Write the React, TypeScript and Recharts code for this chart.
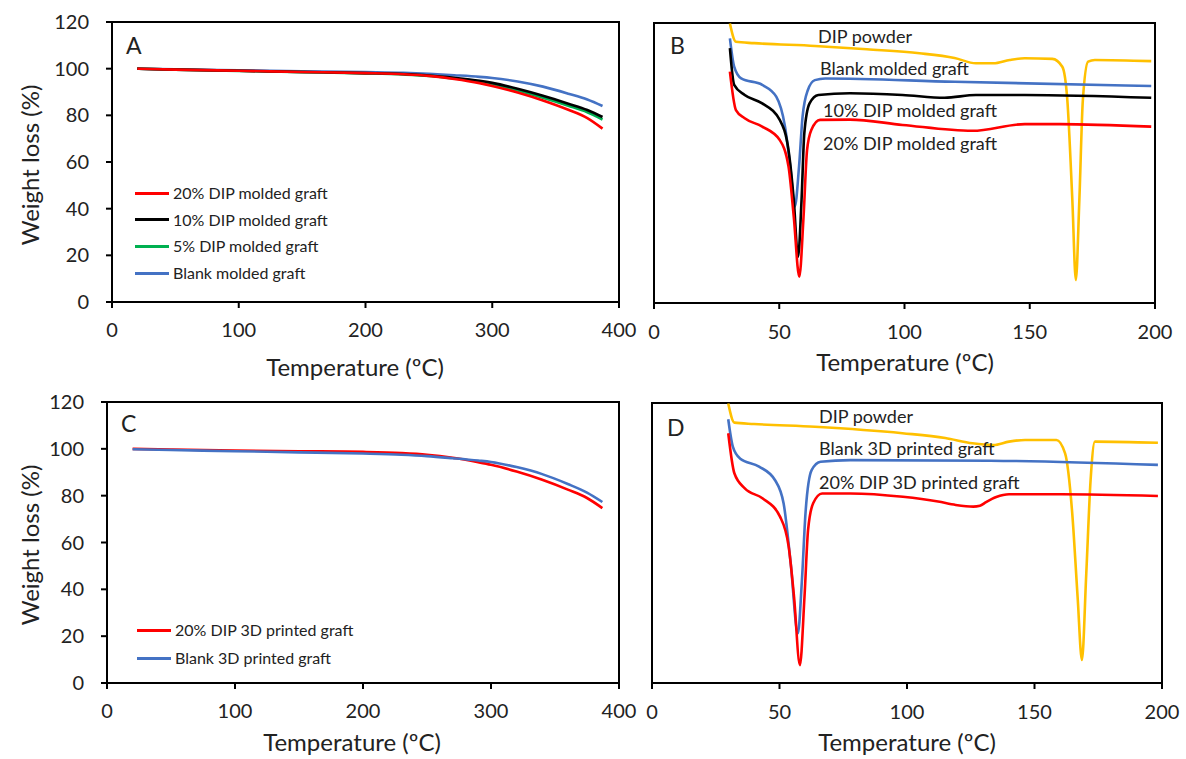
import React from 'react'
import { LineChart, Line, XAxis, YAxis, ReferenceArea } from 'recharts'

// TGA (panels A, C) – temperature in ºC
const tgaTemps = [20, 50, 100, 150, 200, 230, 250, 270, 290, 300, 320, 340, 360, 375, 387]
const molded20 = [100, 99.6, 99.1, 98.6, 98.1, 97.6, 96.9, 95.6, 93.8, 92.6, 89.8, 86.4, 82.4, 78.8, 74.3]
const molded10 = [100, 99.6, 99.1, 98.6, 98.1, 97.7, 97.1, 96.1, 94.8, 93.9, 91.4, 88.4, 85.0, 82.3, 79.3]
const molded5 = [100, 99.6, 99.0, 98.5, 98.0, 97.5, 96.9, 95.8, 94.5, 93.4, 90.6, 87.5, 84.1, 81.3, 78.2]
const moldedBlank = [100, 99.7, 99.3, 98.9, 98.5, 98.2, 97.8, 97.2, 96.5, 96.0, 94.5, 92.3, 89.3, 86.8, 84.0]
const printed20 = [100, 99.7, 99.3, 99.0, 98.7, 98.2, 97.5, 96.2, 94.3, 93.2, 90.3, 86.8, 82.6, 79.0, 74.7]
const printedBlank = [99.8, 99.5, 99.0, 98.5, 98.0, 97.5, 96.9, 96.0, 95.0, 94.4, 92.2, 89.2, 85.0, 81.3, 77.3]

// DSC (panels B, D) – relative heat flow, arbitrary units (0 = bottom, 100 = top)
const bPowderT = [30.3, 32.7, 40, 64.3, 85, 106, 120, 128.5, 135.5, 142, 148, 159, 163, 165, 167, 168.4, 169.8, 171.2, 173.3, 176, 198.5]
const bPowderV = [99.8, 93.3, 92.8, 91.8, 90.6, 89.2, 87.5, 85.6, 85.6, 86.8, 87.4, 87.2, 84.4, 72.5, 36.8, 8.2, 36.8, 72.5, 86.2, 86.8, 86.4]
const bBlankT = [30.3, 32, 34.8, 43.2, 48.8, 52.3, 54.4, 56.2, 57.9, 59.3, 61.4, 64.2, 68.4, 120, 198.5]
const bBlankV = [94.5, 84.4, 80.2, 77.9, 73.7, 63, 48.7, 34.4, 48.7, 66.5, 76, 79.6, 80.2, 79, 77.5]
const b10T = [30.3, 32, 36.2, 43.2, 50.2, 53.7, 55.8, 57.5, 58.9, 60, 62.1, 65.6, 78.2, 99.2, 116, 128.5, 148, 198.5]
const b10V = [91, 77.9, 74.3, 71.3, 65.4, 54.6, 36.8, 16.5, 36.8, 60.6, 71.3, 74.3, 74.9, 74.3, 73.3, 74.3, 74.3, 73.3]
const b20T = [30.3, 32.7, 36.2, 43.2, 50.2, 53.7, 55.8, 58, 59.7, 61.1, 62.8, 66.3, 78.2, 99.2, 127.1, 148, 162, 198.5]
const b20V = [82.6, 68.9, 66, 63, 58.2, 48.7, 30.8, 9.4, 30.8, 54.6, 61.8, 65.4, 65.5, 63.6, 61.5, 63.9, 63.9, 63]

const dPowderT = [29.9, 32.3, 40, 63.9, 98.2, 115, 125.7, 133.9, 140, 146.3, 158.6, 162, 164.8, 166.9, 168.6, 170.3, 172, 173.7, 198.4]
const dPowderV = [99.8, 93, 92.5, 91.5, 89.2, 87.5, 85.6, 85, 86.2, 86.8, 86.8, 82, 60.6, 30.8, 8.2, 39, 72.5, 86.2, 85.8]
const dBlankT = [29.9, 31.7, 34.5, 42, 48.2, 51.6, 54.4, 57.2, 58.8, 60.2, 62.6, 66.1, 77.8, 132.7, 198.4]
const dBlankV = [94.2, 84.4, 80.2, 77.3, 72.5, 64.2, 42.7, 17.7, 36.8, 60.7, 76, 79, 79.6, 79.4, 77.9]
const d20T = [29.9, 32.3, 36.4, 43.3, 50.2, 53.6, 55.7, 58, 59.8, 61.2, 63.2, 66.7, 77.8, 98.4, 112.2, 119.1, 126, 128.6, 131, 135, 140, 160.3, 198.4]
const d20V = [89.2, 74.9, 69.5, 66, 59.4, 48.7, 30.8, 6.4, 30.8, 54.6, 64.2, 67.7, 67.7, 66.5, 64.8, 63.6, 63, 63.3, 64.6, 66.4, 67.4, 67.4, 66.8]

const tgaTicksX = [0, 100, 200, 300, 400]
const tgaTicksY = [0, 20, 40, 60, 80, 100, 120]
const dscTicksX = [0, 50, 100, 150, 200]

const RED = '#ff0000'
const BLACK = '#000000'
const GREEN = '#00b050'
const BLUE = '#4472c4'
const YELLOW = '#ffc000'
const TEXT = '#222222'
const FONT = 'Lato, "Open Sans", sans-serif'

const zip = (xs: number[], ys: number[]) => xs.map((t, i) => ({ t, v: ys[i] }))

const tickStyle = { fill: TEXT, fontSize: 20 }
const axisStroke = { stroke: '#000', strokeWidth: 2 }

function Legend({ items, left, top, gap }: { items: { name: string; color: string }[]; left: number; top: number; gap: number }) {
  return (
    <div style={{ position: 'absolute', left, top }}>
      {items.map((it, i) => (
        <div key={it.name} style={{ position: 'absolute', top: i * gap, left: 0, display: 'flex', alignItems: 'center', whiteSpace: 'nowrap' }}>
          <div style={{ width: 34, height: 3, background: it.color, marginRight: 4 }} />
          <span style={{ fontSize: 16, color: TEXT, lineHeight: '20px' }}>{it.name}</span>
        </div>
      ))}
    </div>
  )
}

function Text({ x, y, children, size = 18, rotate = false, center = false }: { x: number; y: number; children: React.ReactNode; size?: number; rotate?: boolean; center?: boolean }) {
  return (
    <div
      style={{
        position: 'absolute',
        left: x,
        top: y,
        fontSize: size,
        color: TEXT,
        whiteSpace: 'nowrap',
        lineHeight: 1,
        transform: `${center || rotate ? 'translate(-50%, -50%)' : 'translateY(-50%)'}${rotate ? ' rotate(-90deg)' : ''}`,
      }}
    >
      {children}
    </div>
  )
}

function TgaChart({ series, left, top, width, height, marginLeft, marginTop, marginBottom }: any) {
  return (
    <div style={{ position: 'absolute', left, top }}>
      <LineChart width={width} height={height} margin={{ top: marginTop, right: 21, left: 0, bottom: marginBottom }}>
        <XAxis
          dataKey="t"
          type="number"
          domain={[0, 400]}
          ticks={tgaTicksX}
          height={40}
          tickSize={6}
          tickMargin={15}
          tick={tickStyle}
          axisLine={axisStroke}
          tickLine={axisStroke}
          allowDuplicatedCategory={false}
        />
        <YAxis
          type="number"
          domain={[0, 120]}
          ticks={tgaTicksY}
          width={marginLeft}
          tickSize={6}
          tickMargin={17}
          tick={tickStyle}
          axisLine={axisStroke}
          tickLine={axisStroke}
        />
        <ReferenceArea x1={0} x2={400} y1={0} y2={120} fill="none" fillOpacity={0} stroke="#000" strokeWidth={2} ifOverflow="visible" />
        {series.map((s: any) => (
          <Line key={s.name} data={s.data} dataKey="v" type="monotone" stroke={s.color} strokeWidth={2.6} dot={false} isAnimationActive={false} />
        ))}
      </LineChart>
    </div>
  )
}

function DscChart({ series, left, top, width, height, margin }: any) {
  return (
    <div style={{ position: 'absolute', left, top }}>
      <LineChart width={width} height={height} margin={margin}>
        <XAxis
          dataKey="t"
          type="number"
          domain={[0, 200]}
          ticks={dscTicksX}
          height={40}
          tickSize={6}
          tickMargin={16}
          tick={tickStyle}
          axisLine={axisStroke}
          tickLine={axisStroke}
          allowDuplicatedCategory={false}
        />
        <YAxis type="number" domain={[0, 100]} hide />
        <ReferenceArea x1={0} x2={200} y1={0} y2={100} fill="none" fillOpacity={0} stroke="#000" strokeWidth={2} ifOverflow="visible" />
        {series.map((s: any) => (
          <Line key={s.name} data={s.data} dataKey="v" type="monotone" stroke={s.color} strokeWidth={2.6} dot={false} isAnimationActive={false} />
        ))}
      </LineChart>
    </div>
  )
}

export default function App() {
  const panelA = [
    { name: '20% DIP molded graft', color: RED, data: zip(tgaTemps, molded20) },
    { name: '10% DIP molded graft', color: BLACK, data: zip(tgaTemps, molded10) },
    { name: '5% DIP molded graft', color: GREEN, data: zip(tgaTemps, molded5) },
    { name: 'Blank molded graft', color: BLUE, data: zip(tgaTemps, moldedBlank) },
  ]
  // draw order: blank first so the DIP curves sit on top
  const panelAOrder = [panelA[3], panelA[2], panelA[1], panelA[0]]

  const panelB = [
    { name: 'DIP powder', color: YELLOW, data: zip(bPowderT, bPowderV) },
    { name: 'Blank molded graft', color: BLUE, data: zip(bBlankT, bBlankV) },
    { name: '10% DIP molded graft', color: BLACK, data: zip(b10T, b10V) },
    { name: '20% DIP molded graft', color: RED, data: zip(b20T, b20V) },
  ]

  const panelC = [
    { name: '20% DIP 3D printed graft', color: RED, data: zip(tgaTemps, printed20) },
    { name: 'Blank 3D printed graft', color: BLUE, data: zip(tgaTemps, printedBlank) },
  ]

  const panelD = [
    { name: 'DIP powder', color: YELLOW, data: zip(dPowderT, dPowderV) },
    { name: 'Blank 3D printed graft', color: BLUE, data: zip(dBlankT, dBlankV) },
    { name: '20% DIP 3D printed graft', color: RED, data: zip(d20T, d20V) },
  ]

  return (
    <div style={{ position: 'fixed', left: 0, top: 0, width: 1186, height: 759, background: '#fff', fontFamily: FONT, overflow: 'hidden' }}>
      <TgaChart series={panelAOrder} left={0} top={0} width={640} height={380} marginLeft={112} marginTop={22} marginBottom={38} />
      <DscChart series={panelB} left={640} top={0} width={546} height={380} margin={{ top: 23, right: 31, left: 14, bottom: 37 }} />
      <TgaChart series={panelC} left={0} top={380} width={640} height={379} marginLeft={107} marginTop={22} marginBottom={36} />
      <DscChart series={panelD} left={640} top={380} width={546} height={379} margin={{ top: 23, right: 24, left: 12, bottom: 36 }} />

      {/* panel letters */}
      <Text x={126} y={45} size={23}>A</Text>
      <Text x={670} y={45} size={23}>B</Text>
      <Text x={121} y={423} size={23}>C</Text>
      <Text x={667} y={427} size={23}>D</Text>

      {/* axis titles */}
      <Text x={30} y={165} size={24} rotate>Weight loss (%)</Text>
      <Text x={30} y={545} size={24} rotate>Weight loss (%)</Text>
      <Text x={355} y={367} size={24} center>Temperature (ºC)</Text>
      <Text x={905} y={362} size={24} center>Temperature (ºC)</Text>
      <Text x={352} y={742} size={24} center>Temperature (ºC)</Text>
      <Text x={907} y={742} size={24} center>Temperature (ºC)</Text>

      <Legend items={panelA} left={135} top={183} gap={26.7} />
      <Legend items={panelC} left={137} top={620} gap={28} />

      {/* curve annotations */}
      <Text x={818} y={36}>DIP powder</Text>
      <Text x={820} y={68}>Blank molded graft</Text>
      <Text x={823} y={110}>10% DIP molded graft</Text>
      <Text x={823} y={143}>20% DIP molded graft</Text>
      <Text x={819} y={416}>DIP powder</Text>
      <Text x={819} y={448}>Blank 3D printed graft</Text>
      <Text x={819} y={482}>20% DIP 3D printed graft</Text>
    </div>
  )
}
